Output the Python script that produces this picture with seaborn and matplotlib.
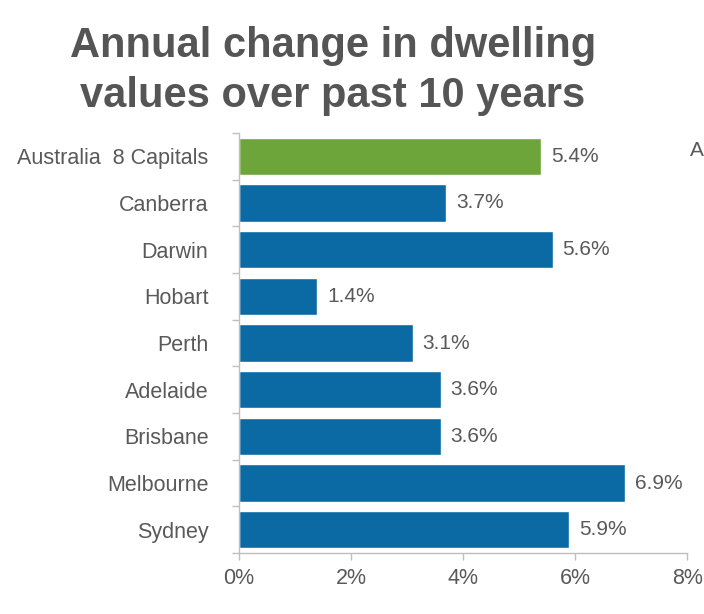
import numpy as np
import pandas as pd
import matplotlib
matplotlib.use("Agg")
import matplotlib.pyplot as plt
import seaborn as sns

# Datos del gráfico
regions = ["Australia  8 Capitals", "Canberra", "Darwin", "Hobart", "Perth",
           "Adelaide", "Brisbane", "Melbourne", "Sydney"]
annual_change = [5.4, 3.7, 5.6, 1.4, 3.1, 3.6, 3.6, 6.9, 5.9]
x_ticks = [0, 2, 4, 6, 8]
x_tick_labels = ["0%", "2%", "4%", "6%", "8%"]

green = "#6EA53A"
blue = "#0B69A4"
text_gray = "#595959"
spine_gray = "#BFBFBF"

sns.set_style("white")
plt.rcParams["font.family"] = ["Liberation Sans", "DejaVu Sans"]

df = pd.DataFrame({"region": regions, "change": annual_change})
palette = {r: (green if i == 0 else blue) for i, r in enumerate(regions)}

fig = plt.figure(figsize=(7.04, 6.14), dpi=100)
ax = fig.add_axes([0.3395, 0.0993, 0.6365, 0.6841])

sns.barplot(data=df, x="change", y="region", hue="region", palette=palette,
            order=regions, hue_order=regions, width=0.8, legend=False,
            saturation=1, ax=ax)

for cont in ax.containers:
    ax.bar_label(cont, fmt="%.1f%%", padding=7, fontsize=15, color=text_gray)

ax.set_xlim(0, 8)
ax.set_ylim(len(regions) - 0.5, -0.5)
ax.set_xticks(x_ticks)
ax.set_xticklabels(x_tick_labels)
ax.set_xlabel("")
ax.set_ylabel("")

# Marcas entre categorías en el eje vertical
ax.set_yticks(np.arange(-0.5, len(regions)), minor=True)
ax.tick_params(axis="y", which="major", length=0, pad=22, labelsize=15.5,
               labelcolor=text_gray)
ax.tick_params(axis="y", which="minor", length=5, width=1, color=spine_gray,
               direction="out", left=True)
ax.tick_params(axis="x", which="major", length=5, width=1, color=spine_gray,
               direction="out", bottom=True, pad=6, labelsize=15.5,
               labelcolor=text_gray)

for side in ["top", "right"]:
    ax.spines[side].set_visible(False)
for side in ["left", "bottom"]:
    ax.spines[side].set_color(spine_gray)
    ax.spines[side].set_linewidth(1)

fig.text(0.473, 0.957, "Annual change in dwelling\nvalues over past 10 years",
         ha="center", va="top", fontsize=30, fontweight="bold",
         color="#555555", linespacing=1.3)

# Texto recortado en el borde derecho del original
fig.text(0.980, 0.755, "A", ha="left", va="center", fontsize=15, color=text_gray)

fig.savefig("out.png", dpi=100)
